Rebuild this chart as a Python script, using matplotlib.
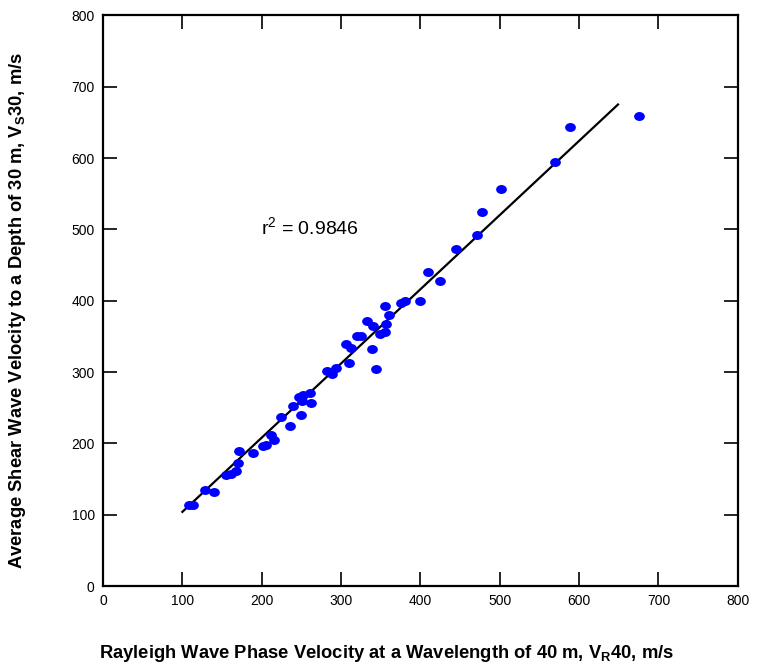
import matplotlib
matplotlib.use("Agg")
import matplotlib.pyplot as plt
from matplotlib.path import Path
from matplotlib.transforms import Affine2D

plt.rcParams['font.family'] = ['Liberation Sans', 'DejaVu Sans']
plt.rcParams['mathtext.fontset'] = 'custom'
plt.rcParams['mathtext.rm'] = 'Liberation Sans'
plt.rcParams['mathtext.bf'] = 'Liberation Sans:bold'
plt.rcParams['mathtext.default'] = 'regular'

# measured pairs: Rayleigh phase velocity VR40 vs VS30 (m/s)
vr40 = [108, 113, 128, 140, 155, 161, 167, 170, 171, 189, 202, 205, 212, 215,
        224, 236, 239, 249, 251, 262, 247, 252, 261, 282, 289, 293, 306, 312,
        310, 320, 325, 339, 333, 340, 344, 349, 355, 357, 361, 355, 375, 380,
        400, 410, 425, 445, 471, 478, 501, 569, 588, 675]
vs30 = [113, 113, 134, 132, 155, 157, 162, 172, 190, 187, 196, 198, 212, 205,
        237, 224, 252, 240, 259, 257, 265, 268, 270, 302, 297, 305, 340, 334,
        313, 351, 351, 332, 372, 365, 304, 353, 356, 368, 380, 393, 397, 399,
        400, 440, 428, 472, 492, 525, 557, 595, 643, 659]

# regression line end points
fit_x = [100, 649]
fit_y = [104, 675]

r2_text = 'r$^2$ = 0.9846'

fig = plt.figure(figsize=(7.63, 6.66), dpi=100)
ax = fig.add_axes([0.135, 0.120, 0.832, 0.857])

ellipse = Path.unit_circle().transformed(Affine2D().scale(1.2, 1.0))
ax.scatter(vr40, vs30, s=60, marker=ellipse, color='#0000ff', linewidths=0, zorder=3)
ax.plot(fit_x, fit_y, color='black', lw=1.6, zorder=2)

ax.text(199, 493, r2_text, fontsize=14)

ax.set_xlim(0, 800)
ax.set_ylim(0, 800)
ax.set_xticks(range(0, 801, 100))
ax.set_yticks(range(0, 801, 100))
ax.tick_params(direction='in', length=10, width=1.2, top=True, right=True,
               labelsize=10, pad=6)
for s in ax.spines.values():
    s.set_linewidth(1.6)

fig.text(386 / 763, 1 - 654 / 666,
         r'Rayleigh Wave Phase Velocity at a Wavelength of 40 m, $\mathbf{V_R}$40, m/s',
         ha='center', va='center', fontsize=13.2, fontweight='bold')
fig.text(18 / 763, 1 - 310 / 666,
         r'Average Shear Wave Velocity to a Depth of 30 m, $\mathbf{V_S}$30, m/s',
         ha='center', va='center', rotation=90, fontsize=13.2, fontweight='bold')

fig.savefig('out.png', dpi=100)
